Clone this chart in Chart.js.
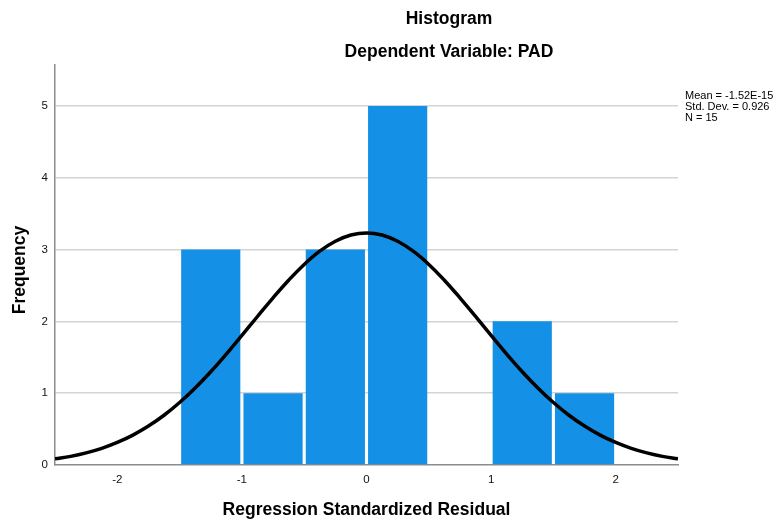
<!DOCTYPE html>
<html>
<head>
<meta charset="utf-8">
<script src="https://cdn.jsdelivr.net/npm/chart.js@4.4.1/dist/chart.umd.min.js"></script>
<style>
  html, body { margin: 0; padding: 0; background: #fff; }
  #wrap { width: 778px; height: 522px; position: relative; }
</style>
</head>
<body>
<div id="wrap"><canvas id="histChart"></canvas></div>
<script>
// histogram bins (centres, width 0.5) and counts
const binCenters = [-1.25, -0.75, -0.25, 0.25, 0.75, 1.25, 1.75];
const binCounts = [3, 1, 3, 5, 0, 2, 1];

// normal curve
const curveX = [-2.5, -2.375, -2.25, -2.125, -2, -1.875, -1.75, -1.625, -1.5, -1.375, -1.25, -1.125, -1, -0.875, -0.75, -0.625, -0.5, -0.375, -0.25, -0.125, 0,
                0.125, 0.25, 0.375, 0.5, 0.625, 0.75, 0.875, 1, 1.125, 1.25, 1.375, 1.5, 1.625, 1.75, 1.875, 2, 2.125, 2.25, 2.375, 2.5];
const curveY = [0.085, 0.120, 0.169, 0.232, 0.314, 0.416, 0.542, 0.693, 0.870, 1.073, 1.299, 1.545, 1.804, 2.068, 2.328, 2.573, 2.793, 2.977, 3.115, 3.202, 3.231,
                3.202, 3.115, 2.977, 2.793, 2.573, 2.328, 2.068, 1.804, 1.545, 1.299, 1.073, 0.870, 0.693, 0.542, 0.416, 0.314, 0.232, 0.169, 0.120, 0.085];

const xTicks = [-2, -1, 0, 1, 2];
const yTicks = [0, 1, 2, 3, 4, 5];
const xRange = [-2.5, 2.5];
const yRange = [0, 5.57];

const chartTitle = 'Histogram';
const chartSubtitle = 'Dependent Variable: PAD';
const xTitle = 'Regression Standardized Residual';
const yTitle = 'Frequency';
const statsLines = ['Mean = -1.52E-15', 'Std. Dev. = 0.926', 'N = 15'];

const FONT = "'Liberation Sans', Arial, sans-serif";

// titles, axis titles and the stats box
const textPlugin = {
    id: 'spssText',
    afterDraw(chart) {
        const ctx = chart.ctx;
        const area = chart.chartArea;
        ctx.save();
        ctx.fillStyle = '#000';
        ctx.textAlign = 'center';
        ctx.textBaseline = 'middle';
        ctx.font = 'bold 17.5px ' + FONT;
        ctx.fillText(chartTitle, 449, 19);
        ctx.fillText(chartSubtitle, 449, 52);

        ctx.fillText(xTitle, (area.left + area.right) / 2, 510);
        ctx.translate(20, 270);
        ctx.rotate(-Math.PI / 2);
        ctx.fillText(yTitle, 0, 0);
        ctx.restore();

        ctx.save();
        ctx.fillStyle = '#000';
        ctx.textAlign = 'left';
        ctx.textBaseline = 'middle';
        ctx.font = "11px 'Liberation Sans Narrow', 'Liberation Sans', Arial, sans-serif";
        statsLines.forEach((s, i) => ctx.fillText(s, 685, 96 + i * 11));
        ctx.restore();
    }
};

const canvas = document.getElementById('histChart');
new Chart(canvas.getContext('2d'), {
    type: 'bar',
    data: {
        datasets: [
            {
                type: 'line',
                data: curveX.map((x, i) => ({ x: x, y: curveY[i] })),
                borderColor: '#000',
                borderWidth: 3.5,
                pointRadius: 0,
                tension: 0.4,
                fill: false
            },
            {
                type: 'bar',
                data: binCenters.map((x, i) => ({ x: x, y: binCounts[i] })),
                backgroundColor: '#1490e6',
                borderWidth: 0,
                barPercentage: 0.95,
                categoryPercentage: 1
            }
        ]
    },
    options: {
        responsive: true,
        maintainAspectRatio: false,
        animation: false,
        layout: { padding: { top: 65, right: 100, left: 0, bottom: 0 } },
        plugins: { legend: { display: false }, tooltip: { enabled: false } },
        scales: {
            x: {
                type: 'linear',
                offset: false,
                min: xRange[0],
                max: xRange[1],
                afterBuildTicks: s => { s.ticks = xTicks.map(v => ({ value: v })); },
                afterFit: s => { s.height = 57; },
                grid: { display: false, drawTicks: false, offset: false },
                border: { display: true, color: '#8c8c8c', width: 1.5 },
                ticks: { color: '#111', font: { family: FONT, size: 11.5 }, padding: 8, maxRotation: 0 }
            },
            y: {
                min: yRange[0],
                max: yRange[1],
                afterBuildTicks: s => { s.ticks = yTicks.map(v => ({ value: v })); },
                afterFit: s => { s.width = 55; },
                grid: {
                    drawTicks: false,
                    color: c => (c.tick && c.tick.value === 0) ? 'rgba(0,0,0,0)' : '#d4d4d4',
                    lineWidth: 1.5
                },
                border: { display: true, color: '#8c8c8c', width: 1.5 },
                ticks: { color: '#111', font: { family: FONT, size: 11.5 }, padding: 7 }
            }
        }
    },
    plugins: [textPlugin]
});
</script>
</body>
</html>
